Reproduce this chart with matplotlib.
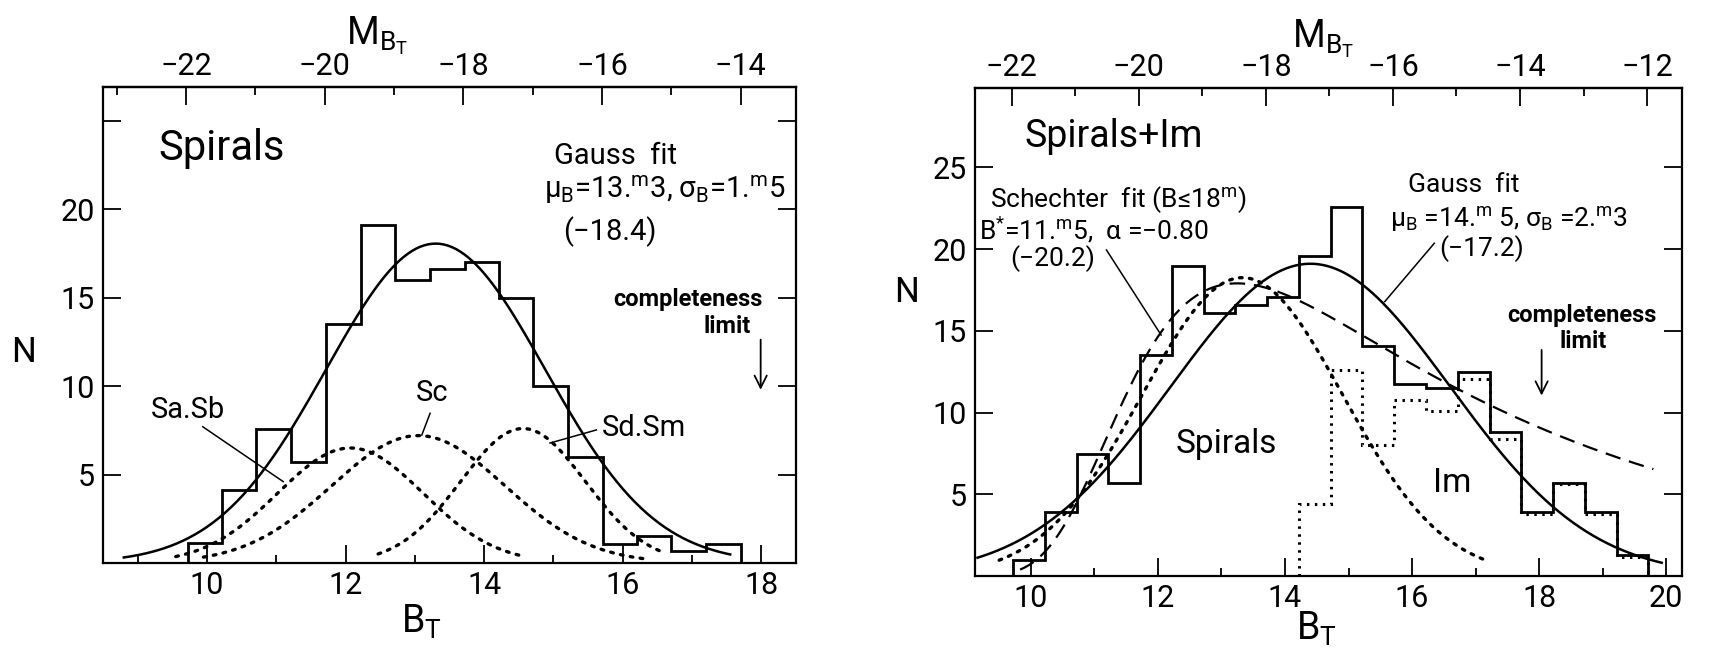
import numpy as np
import matplotlib
matplotlib.use("Agg")
import matplotlib.pyplot as plt
from matplotlib.transforms import blended_transform_factory

plt.rcParams["font.family"] = ["Roboto", "DejaVu Sans"]
plt.rcParams["mathtext.fontset"] = "custom"
plt.rcParams["mathtext.rm"] = "Roboto"
plt.rcParams["mathtext.it"] = "Roboto:italic"

# B_T - M_BT
modulo = 31.7

# ---- panel izquierdo: espirales
bordes_izq = [9.72, 10.21, 10.71, 11.22, 11.72, 12.22, 12.72, 13.22, 13.72,
              14.21, 14.71, 15.21, 15.72, 16.2, 16.7, 17.2, 17.7]
n_izq = [1.15, 4.1, 7.6, 5.7, 13.5, 19.1, 16.0, 16.6, 17.0,
         15.0, 10.0, 6.0, 1.1, 1.5, 0.7, 1.1]

# ajuste gauss (centro, sigma, altura, rango dibujado)
gauss_izq = [13.3, 1.58, 18.05, 8.8, 17.55]

# componentes por tipo
tipos = ["Sa.Sb", "Sc", "Sd.Sm"]
tipos_centro = [12.07, 13.05, 14.56]
tipos_sigma = [1.05, 1.25, 0.9]
tipos_altura = [6.5, 7.2, 7.6]
tipos_desde = [9.55, 9.95, 12.47]
tipos_hasta = [14.5, 16.35, 16.6]

# ---- panel derecho: espirales + Im
bordes_der = [9.72, 10.22, 10.72, 11.22, 11.72, 12.22, 12.72, 13.22, 13.72, 14.22,
              14.72, 15.22, 15.72, 16.22, 16.72, 17.22, 17.72, 18.22, 18.72, 19.22, 19.72]
n_der = [0.95, 3.92, 7.45, 5.71, 13.53, 18.98, 16.06, 16.57, 17.08, 19.6,
         22.55, 14.05, 11.73, 11.47, 12.49, 8.82, 3.92, 5.71, 3.92, 1.27]

bordes_im = [14.22, 14.72, 15.22, 15.72, 16.22, 16.72, 17.22, 17.72, 18.22, 18.72, 19.22, 19.72]
n_im = [4.39, 12.6, 8.0, 10.78, 10.1, 12.04, 8.37, 3.82, 5.6, 3.82, 1.15]

espirales_der = [13.33, 1.58, 18.25, 9.5, 17.2]
gauss_der = [14.4, 2.2, 19.1, 9.16, 19.93]
# schechter: B*, alpha, altura maxima, rango
schechter_der = [11.5, -0.80, 17.9, 9.83, 19.8]

# ticks
bt_izq = [10, 12, 14, 16, 18]
bt_izq_menor = [9, 11, 13, 15, 17]
mb_izq = [-22, -20, -18, -16, -14]
mb_izq_menor = [-23, -21, -19, -17, -15]
bt_der = [10, 12, 14, 16, 18, 20]
bt_der_menor = [11, 13, 15, 17, 19]
mb_der = [-22, -20, -18, -16, -14, -12]
mb_der_menor = [-21, -19, -17, -15, -13]
n_ticks = [5, 10, 15, 20, 25]


def gauss(x, centro, sigma, altura):
    return altura * np.exp(-0.5 * ((x - centro) / sigma) ** 2)


def schechter(b, bstar, alpha, altura):
    u = 10 ** (-0.4 * (b - bstar))
    f = u ** (alpha + 1) * np.exp(-u)
    pico = (alpha + 1) ** (alpha + 1) * np.exp(-(alpha + 1))
    return altura * f / pico


def curva_gauss(ax, p, **kw):
    x = np.linspace(p[3], p[4], 300)
    ax.plot(x, gauss(x, p[0], p[1], p[2]), color="k", **kw)


def estilo(ax, xlim, ylim, ylabels, bt, bt_menor, mb, mb_menor):
    ax.set_xlim(*xlim)
    ax.set_ylim(*ylim)
    ax.set_xticks(bt)
    ax.set_xticks(bt_menor, minor=True)
    ax.set_yticks(n_ticks)
    ax.set_yticklabels(ylabels)
    ax.tick_params(which="both", direction="in", top=False, right=True, labelsize=22, width=1.3)
    ax.tick_params(which="major", length=13, pad=6)
    ax.tick_params(which="minor", length=6)
    for s in ax.spines.values():
        s.set_linewidth(1.6)
    top = ax.secondary_xaxis("top", functions=(lambda b: b - modulo, lambda m: m + modulo))
    top.set_xticks(mb)
    top.set_xticks(mb_menor, minor=True)
    top.tick_params(which="both", direction="in", labelsize=22, width=1.3)
    top.tick_params(which="major", length=13, pad=4)
    top.tick_params(which="minor", length=6)
    top.spines["top"].set_linewidth(1.6)


def linea(ax, xs, ys):
    ax.plot(xs, ys, color="k", lw=1.1)


def flecha(ax, x, y0, y1):
    ax.annotate("", xy=(x, y1), xytext=(x, y0),
                arrowprops=dict(arrowstyle="->", lw=1.3, color="k", mutation_scale=22))


fig = plt.figure(figsize=(17.11, 6.48), dpi=100)
ax1 = fig.add_axes([103 / 1711, 85 / 648, 693 / 1711, 476 / 648])
ax2 = fig.add_axes([975 / 1711, 72 / 648, 707 / 1711, 488 / 648])

# ---------------- izquierda
estilo(ax1, (8.5, 18.5), (0, 26.9), ["5", "10", "15", "20", ""],
       bt_izq, bt_izq_menor, mb_izq, mb_izq_menor)
ax1.stairs(n_izq, bordes_izq, color="k", lw=2.0)
curva_gauss(ax1, gauss_izq, lw=1.8)
for i in range(len(tipos)):
    x = np.linspace(tipos_desde[i], tipos_hasta[i], 200)
    ax1.plot(x, gauss(x, tipos_centro[i], tipos_sigma[i], tipos_altura[i]),
             color="k", lw=2.4, linestyle=(0, (0.8, 2.2)), dash_capstyle="round")

ax1.text(9.3, 23.4, "Spirals", fontsize=30, va="center", ha="left")
ax1.text(15.89, 23.0, "Gauss  fit", fontsize=21, va="center", ha="center")
ax1.text(16.6, 21.07, "μ$_{\\mathregular{B}}$=13.$^{\\mathregular{m}}$3, σ$_{\\mathregular{B}}$=1.$^{\\mathregular{m}}$5",
         fontsize=21, va="center", ha="center")
ax1.text(15.81, 18.74, "(−18.4)", fontsize=21, va="center", ha="center")
ax1.text(16.94, 14.88, "completeness", fontsize=17, fontweight="bold", va="center", ha="center")
ax1.text(17.5, 13.36, "limit", fontsize=17, fontweight="bold", va="center", ha="center")
flecha(ax1, 17.99, 12.78, 9.63)

ax1.text(9.73, 8.64, tipos[0], fontsize=21, va="center", ha="center")
linea(ax1, [9.94, 11.1], [7.7, 4.6])
ax1.text(13.25, 9.59, tipos[1], fontsize=21, va="center", ha="center")
linea(ax1, [13.22, 13.1], [8.46, 7.23])
ax1.text(16.3, 7.64, tipos[2], fontsize=21, va="center", ha="center")
linea(ax1, [15.62, 14.95], [7.52, 6.78])

ax1.text(-0.115, 0.442, "N", transform=ax1.transAxes, fontsize=25, va="center", ha="center")
ax1.text(13.1, 0.04, "B$_{\\mathregular{T}}$", transform=blended_transform_factory(ax1.transData, fig.transFigure),
         fontsize=27, va="center", ha="center")
ax1.text(12.45, 0.945, "M$_{\\mathregular{B_T}}$", transform=blended_transform_factory(ax1.transData, fig.transFigure),
         fontsize=27, va="center", ha="center")

# ---------------- derecha
estilo(ax2, (9.12, 20.25), (0, 29.85), ["5", "10", "15", "20", "25"],
       bt_der, bt_der_menor, mb_der, mb_der_menor)
ax2.stairs(n_der, bordes_der, color="k", lw=2.0)
ax2.stairs(n_im, bordes_im, color="k", lw=2.2, linestyle=(0, (0.8, 1.8)))
curva_gauss(ax2, espirales_der, lw=2.4, linestyle=(0, (0.8, 2.2)), dash_capstyle="round")
curva_gauss(ax2, gauss_der, lw=1.8)
xs = np.linspace(schechter_der[3], schechter_der[4], 300)
ax2.plot(xs, schechter(xs, schechter_der[0], schechter_der[1], schechter_der[2]),
         color="k", lw=1.6, linestyle=(0, (7, 4)))

ax2.text(9.9, 26.9, "Spirals+Im", fontsize=27, va="center", ha="left")
ax2.text(11.37, 23.0, "Schechter  fit (B≤18$^{\\mathregular{m}}$)", fontsize=19, va="center", ha="center")
ax2.text(10.99, 21.16, "B$^{\\mathregular{*}}$=11.$^{\\mathregular{m}}$5,  α =−0.80", fontsize=19, va="center", ha="center")
ax2.text(10.35, 19.43, "(−20.2)", fontsize=19, va="center", ha="center")
linea(ax2, [11.19, 12.05], [19.94, 14.74])

ax2.text(16.81, 23.9, "Gauss  fit", fontsize=19, va="center", ha="center")
ax2.text(17.52, 21.8, "μ$_{\\mathregular{B}}$ =14.$^{\\mathregular{m}}$ 5, σ$_{\\mathregular{B}}$ =2.$^{\\mathregular{m}}$3",
         fontsize=19, va="center", ha="center")
ax2.text(17.1, 20.0, "(−17.2)", fontsize=19, va="center", ha="center")
linea(ax2, [16.35, 15.57], [20.35, 16.78])

ax2.text(18.67, 15.96, "completeness", fontsize=17, fontweight="bold", va="center", ha="center")
ax2.text(18.7, 14.33, "limit", fontsize=17, fontweight="bold", va="center", ha="center")
flecha(ax2, 18.04, 14.0, 10.87)

ax2.text(13.07, 8.1, "Spirals", fontsize=24, va="center", ha="center")
ax2.text(16.64, 5.67, "Im", fontsize=24, va="center", ha="center")

ax2.text(-0.097, 0.58, "N", transform=ax2.transAxes, fontsize=25, va="center", ha="center")
ax2.text(14.5, 0.03, "B$_{\\mathregular{T}}$", transform=blended_transform_factory(ax2.transData, fig.transFigure),
         fontsize=27, va="center", ha="center")
ax2.text(14.6, 0.94, "M$_{\\mathregular{B_T}}$", transform=blended_transform_factory(ax2.transData, fig.transFigure),
         fontsize=27, va="center", ha="center")

fig.savefig("out.png", dpi=100)
